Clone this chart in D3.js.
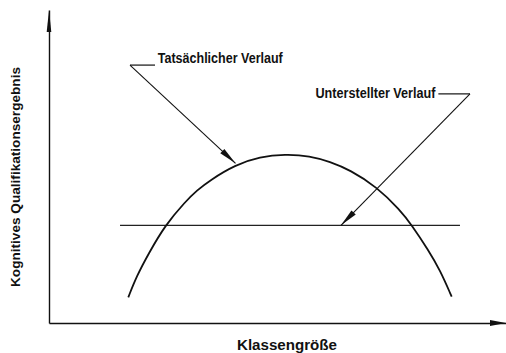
<!DOCTYPE html>
<html>
<head>
<meta charset="utf-8">
<script src="https://cdn.jsdelivr.net/npm/d3@7"></script>
<style>
  html, body { margin: 0; padding: 0; background: #fff; }
  svg { display: block; }
  text { font-family: "Liberation Sans", "DejaVu Sans", sans-serif; font-weight: bold; fill: #111; }
</style>
</head>
<body>
<svg id="chart" width="506" height="353"></svg>
<script>
// ---- Data (arbitrary units, 0–100 along each axis) ----
const xLabel = "Klassengröße";
const yLabel = "Kognitives Qualifikationsergebnis";

// "Tatsächlicher Verlauf" – actual relation (inverted U)
const actualX = [17.35, 19.19, 21.73, 25.38, 29.91, 32.32, 35.23, 40.70, 46.17, 51.64, 57.11, 61.49, 65.86, 71.71, 76.81, 79.37, 83.00, 85.56, 88.12];
const actualY = [8.2, 15.0, 22.0, 31.2, 38.9, 42.3, 45.6, 50.5, 53.1, 53.9, 53.4, 51.5, 48.9, 43.5, 36.1, 31.3, 23.3, 16.9, 8.4];

// "Unterstellter Verlauf" – assumed relation (flat)
const assumedX = [15.54, 89.93];
const assumedY = [31.2, 31.2];

// Annotations: label, label anchor, elbow of leader, arrow target
const annLabels  = ["Tatsächlicher Verlauf", "Unterstellter Verlauf"];
const annTextX   = [23.8, 84.57];
const annTextY   = [83.1, 72.0];
const annAnchor  = ["start", "end"];
const annElbowX  = [17.72, 92.12];
const annElbowY  = [82.4, 73.2];
const annLeadX   = [23.2, 85.2];
const annTargetX = [40.81, 63.89];
const annTargetY = [51.0, 31.2];

// ---- Layout ----
const W = 506, H = 353;
const x = d3.scaleLinear().domain([0, 100]).range([49, 506]);
const y = d3.scaleLinear().domain([0, 100]).range([323, 10]);
const svg = d3.select("#chart");
const ink = "#111";

function arrowHead(g, x1, y1, x2, y2, len, half) {
  const a = Math.atan2(y2 - y1, x2 - x1);
  const bx = x2 - len * Math.cos(a), by = y2 - len * Math.sin(a);
  const px = -Math.sin(a) * half, py = Math.cos(a) * half;
  g.append("path")
    .attr("d", `M${x2},${y2}L${bx + px},${by + py}L${bx - px},${by - py}Z`)
    .attr("fill", ink);
}

// Axes (domain lines only, no ticks)
const xAxis = d3.axisBottom(x).ticks(0).tickSizeOuter(0);
const yAxis = d3.axisLeft(y).ticks(0).tickSizeOuter(0);
svg.append("g").attr("transform", `translate(0,${y(0)})`).call(xAxis)
  .select(".domain").attr("stroke", ink).attr("stroke-width", 1.6);
svg.append("g").attr("transform", `translate(${x(0)},0)`).call(yAxis)
  .select(".domain").attr("stroke", ink).attr("stroke-width", 1.4);
arrowHead(svg, x(0), y(0), x(100), y(0), 16, 3);
arrowHead(svg, x(0), y(0), x(0), y(100), 22, 2.3);

// Axis titles
svg.append("text")
  .attr("x", 287).attr("y", 350)
  .attr("text-anchor", "middle")
  .attr("font-size", 14)
  .attr("textLength", 100).attr("lengthAdjust", "spacingAndGlyphs")
  .text(xLabel);
svg.append("text")
  .attr("transform", `translate(20,177) rotate(-90)`)
  .attr("text-anchor", "middle")
  .attr("font-size", 13.5)
  .attr("textLength", 220).attr("lengthAdjust", "spacingAndGlyphs")
  .text(yLabel);

// Assumed (flat) relation
const line = d3.line().x(d => x(d[0])).y(d => y(d[1]));
svg.append("path")
  .datum(d3.zip(assumedX, assumedY))
  .attr("d", line)
  .attr("fill", "none").attr("stroke", "#222").attr("stroke-width", 1.4);

// Actual relation (inverted U)
const curve = d3.line().x(d => x(d[0])).y(d => y(d[1])).curve(d3.curveBasis);
svg.append("path")
  .datum(d3.zip(actualX, actualY))
  .attr("d", curve)
  .attr("fill", "none").attr("stroke", ink).attr("stroke-width", 1.8);

// Annotations
annLabels.forEach((lab, i) => {
  const g = svg.append("g");
  const ex = x(annElbowX[i]), ey = y(annElbowY[i]);
  const tx = x(annTargetX[i]), ty = y(annTargetY[i]);
  g.append("line")
    .attr("x1", x(annLeadX[i])).attr("y1", ey)
    .attr("x2", ex).attr("y2", ey)
    .attr("stroke", ink).attr("stroke-width", 1.2);
  g.append("line")
    .attr("x1", ex).attr("y1", ey)
    .attr("x2", tx).attr("y2", ty)
    .attr("stroke", ink).attr("stroke-width", 1.1);
  arrowHead(g, ex, ey, tx, ty, 18, 3);
  g.append("text")
    .attr("x", x(annTextX[i])).attr("y", y(annTextY[i]))
    .attr("text-anchor", annAnchor[i])
    .attr("font-size", 14.5)
    .attr("textLength", i === 0 ? 125 : 120).attr("lengthAdjust", "spacingAndGlyphs")
    .text(lab);
});
</script>
</body>
</html>
